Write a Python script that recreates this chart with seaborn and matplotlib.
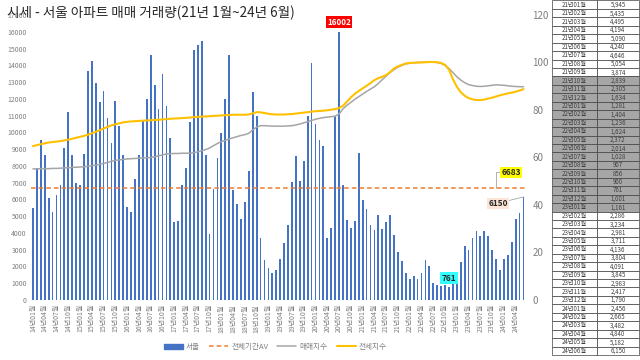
import pandas as pd
import matplotlib.pyplot as plt
import seaborn as sns
from matplotlib.patches import Patch
from matplotlib.lines import Line2D

# --- 데이터 ---
months = [f"{y:02d}년{m:02d}월" for y in range(14, 25) for m in range(1, 13)][:126]

trades_2014_2020 = [
    5500, 7860, 9540, 8640, 6100, 5260, 6240, 6840, 9060, 11200, 8640, 6960,
    6880, 8700, 13640, 14260, 12940, 11800, 12440, 10840, 9360, 11900, 10360, 8640,
    5540, 5220, 7240, 8640, 10660, 12000, 14600, 12840, 11400, 13500, 11560, 9660,
    4640, 4740, 6840, 7860, 10600, 14940, 15220, 15460, 8660, 3940, 6600, 8500,
    9960, 12000, 14640, 6540, 5700, 4840, 5860, 7680, 12420, 11000, 3700, 2400,
    1880, 1600, 1800, 2460, 3420, 4480, 7020, 8580, 7120, 8280, 10980, 14140,
    10500, 9540, 9160, 3700, 4320, 11000, 16002, 6880, 4800, 4320, 4720, 8760,
]
# 21년01월 ~ 24년06월 (오른쪽 표)
trades_2021_2024 = [
    5945, 5435, 4495, 4194, 5090, 4240, 4646, 5054, 3874, 2839, 2305, 1634,
    1281, 1404, 1236, 1624, 2372, 2014, 1028, 907, 856, 900, 761, 1001,
    1161, 2286, 3234, 2981, 3711, 4136, 3804, 4091, 3845, 2983, 2417, 1790,
    2456, 2665, 3482, 4840, 5182, 6150,
]
trades = trades_2014_2020 + trades_2021_2024
avg_all = 6683

sale_index = [
    55.2, 55.2, 55.3, 55.3, 55.3, 55.4, 55.4, 55.5, 55.6, 55.7, 55.8, 55.9,
    56.0, 56.1, 56.3, 56.5, 56.8, 57.1, 57.5, 57.9, 58.4, 58.8, 59.0, 59.2,
    59.4, 59.5, 59.6, 59.7, 59.8, 59.9, 60.0, 60.3, 60.7, 61.1, 61.5, 61.6,
    61.7, 61.7, 61.8, 61.8, 61.8, 62.0, 62.4, 62.9, 63.3, 64.0, 65.0, 65.9,
    66.7, 67.2, 67.8, 68.3, 68.8, 69.3, 69.6, 70.2, 71.6, 72.8, 73.4, 73.4,
    73.3, 73.2, 73.2, 73.2, 73.2, 73.3, 73.4, 73.7, 74.1, 74.6, 75.1, 75.6,
    76.1, 76.5, 76.8, 77.0, 77.2, 77.4, 78.3, 80.5, 82.0, 83.2, 84.5, 85.6,
    86.7, 87.8, 88.8, 89.8, 91.2, 92.8, 94.3, 95.8, 97.0, 98.0, 98.8, 99.4,
    99.7, 99.9, 100.0, 100.1, 100.2, 100.2, 100.2, 100.0, 99.6, 98.8, 97.5, 95.8,
    94.0, 92.6, 91.5, 90.7, 90.3, 90.0, 89.9, 90.0, 90.2, 90.4, 90.6, 90.5,
    90.4, 90.2, 90.0, 89.9, 89.8, 89.8,
]
jeonse_index = [
    64.8, 65.2, 65.6, 66.0, 66.3, 66.5, 66.7, 66.9, 67.2, 67.5, 67.9, 68.3,
    68.7, 69.1, 69.6, 70.2, 70.8, 71.5, 72.2, 72.9, 73.5, 74.0, 74.4, 74.8,
    75.0, 75.2, 75.3, 75.4, 75.5, 75.6, 75.7, 75.8, 75.9, 76.0, 76.2, 76.3,
    76.4, 76.5, 76.6, 76.7, 76.8, 77.0, 77.1, 77.2, 77.3, 77.4, 77.5, 77.6,
    77.7, 77.8, 77.9, 78.0, 78.0, 78.0, 78.0, 78.1, 78.6, 79.1, 79.0, 78.7,
    78.4, 78.2, 78.1, 78.1, 78.1, 78.2, 78.3, 78.5, 78.7, 78.9, 79.1, 79.3,
    79.5, 79.6, 79.7, 79.9, 80.1, 80.4, 80.8, 81.8, 83.5, 85.3, 86.8, 88.0,
    89.1, 90.2, 91.3, 92.6, 93.4, 94.0, 94.7, 96.0, 97.5, 98.4, 99.0, 99.6,
    99.8, 99.9, 100.0, 100.0, 100.1, 100.2, 100.2, 100.1, 99.8, 99.0, 97.0, 93.0,
    89.8, 87.5, 86.0, 85.0, 84.5, 84.2, 84.2, 84.4, 84.8, 85.2, 85.7, 86.2,
    86.6, 87.0, 87.3, 87.7, 88.2, 88.8,
]

table_months = months[84:]
gray_rows = months[93:109]  # 21년10월 ~ 23년01월 음영

df = pd.DataFrame({
    'idx': range(len(trades)),
    'month': months,
    'trades': trades,
    'sale': sale_index,
    'jeonse': jeonse_index,
})

# --- 스타일 ---
sns.set_style('white')
plt.rcParams['font.family'] = ['Noto Sans CJK KR', 'DejaVu Sans']
txt_gray = '#7f7f7f'

fig = plt.figure(figsize=(6.4, 3.6), dpi=100)
ax = fig.add_axes([31 / 640, 60 / 360, 494.5 / 640, 285 / 360])

sns.barplot(data=df, x='idx', y='trades', native_scale=True, color='#4472c4',
            saturation=1, width=0.45, linewidth=0, errorbar=None, ax=ax)
ax.axhline(avg_all, color='#ed7d31', lw=1.1, ls=(0, (3, 2)))

ax.set_xlim(-0.5, len(trades) - 0.5)
ax.set_ylim(0, 17000)
ax.set_yticks(range(0, 17001, 1000))
ax.tick_params(axis='y', labelsize=5, labelcolor=txt_gray, length=0, pad=3)
ax.set_xlabel('')
ax.set_ylabel('')

ax2 = ax.twinx()
sns.lineplot(data=df, x='idx', y='sale', color='#a5a5a5', lw=1.1, ax=ax2)
sns.lineplot(data=df, x='idx', y='jeonse', color='#ffc000', lw=1.5, ax=ax2)
ax2.set_ylim(0, 120)
ax2.set_yticks(range(0, 121, 20))
ax2.tick_params(axis='y', labelsize=7, labelcolor=txt_gray, length=0, pad=5)
ax2.set_ylabel('')
ax2.set_xlabel('')

ax.set_xlim(-0.5, len(trades) - 0.5)
ax.set_xticks(range(0, len(months), 3))
ax.set_xticklabels(months[::3], rotation=90, fontsize=5, color=txt_gray)
ax.tick_params(axis='x', length=0, pad=3)

for a in (ax, ax2):
    for s in a.spines.values():
        s.set_visible(False)

# --- 주석 ---
peak_i = trades.index(max(trades))
low_i = trades.index(min(trades))
last_i = len(trades) - 1

ax.annotate(str(trades[peak_i]), xy=(peak_i, trades[peak_i]), xytext=(0, 7),
            textcoords='offset points', ha='center', va='center', fontsize=5.8,
            fontweight='bold', color='white',
            bbox=dict(boxstyle='square,pad=0.15', fc='#ff0000', ec='none'))
ax.annotate(str(trades[low_i]), xy=(low_i, trades[low_i]), xytext=(0, 6.5),
            textcoords='offset points', ha='center', va='center', fontsize=6,
            fontweight='bold', color='#262626',
            bbox=dict(boxstyle='square,pad=0.15', fc='#33ffff', ec='none'))
ax.annotate(str(avg_all), xy=(118, avg_all), xytext=(121.8, 7620),
            ha='center', va='center', fontsize=6, fontweight='bold', color='#262626',
            bbox=dict(boxstyle='square,pad=0.15', fc='#ffff00', ec='none'),
            arrowprops=dict(arrowstyle='-', color='#a6a6a6', lw=0.6, shrinkA=0, shrinkB=0,
                            connectionstyle='angle,angleA=0,angleB=90,rad=0'))
ax.annotate(str(trades[last_i]), xy=(last_i, trades[last_i]), xytext=(118.5, 5770),
            ha='center', va='center', fontsize=6, fontweight='bold', color='#262626',
            bbox=dict(boxstyle='square,pad=0.15', fc='#fce4d6', ec='none'),
            arrowprops=dict(arrowstyle='-', color='#a6a6a6', lw=0.6, shrinkA=0, shrinkB=0))

# --- 제목 ---
fig.text(7 / 640, 1 - 12.5 / 360, '시세 - 서울 아파트 매매 거래량(21년 1월~24년 6월)',
         fontsize=9.8, color='#262626', ha='left', va='center')

# --- 범례 ---
handles = [
    Patch(color='#4472c4'),
    Line2D([], [], color='#ed7d31', lw=1.1, ls=(0, (3, 2))),
    Line2D([], [], color='#a5a5a5', lw=1.1),
    Line2D([], [], color='#ffc000', lw=1.5),
]
fig.legend(handles, ['서울', '전체기간AV', '매매지수', '전세지수'], loc='center',
           bbox_to_anchor=(0.43, 0.036), ncol=4, frameon=False, fontsize=5.5,
           handlelength=2.5, handletextpad=0.4, columnspacing=1.2, labelcolor=txt_gray)

# --- 오른쪽 표 ---
tax = fig.add_axes([552 / 640, 5 / 360, 87 / 640, 354.5 / 360])
tax.axis('off')
rows = [[m, f"{v:,}"] for m, v in zip(table_months, trades_2021_2024)]
colors = [['#a6a6a6'] * 2 if m in gray_rows else ['white'] * 2 for m in table_months]
tbl = tax.table(cellText=rows, cellColours=colors, cellLoc='center',
                colWidths=[45 / 87, 42 / 87], bbox=[0, 0, 1, 1])
tbl.auto_set_font_size(False)
tbl.set_fontsize(4.4)
for cell in tbl.get_celld().values():
    cell.set_linewidth(0.5)
    cell.set_edgecolor('#404040')
    cell.get_text().set_color('#404040')

fig.savefig('out.png', dpi=100)
